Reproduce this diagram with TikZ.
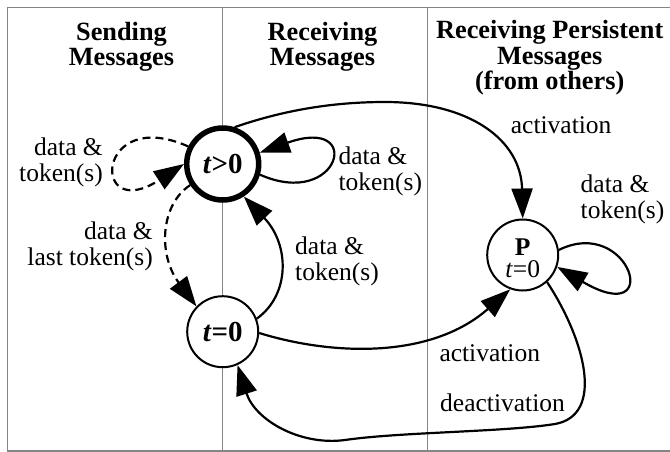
\documentclass[tikz,border=0pt]{standalone}
\usepackage{fontspec}
\setmainfont{Liberation Serif}
\usetikzlibrary{arrows.meta}
\definecolor{framegray}{HTML}{858585}
\begin{document}
\begin{tikzpicture}[x=1pt,y=-1pt,
  state/.style={circle, draw, fill=white, inner sep=0pt, minimum size=71pt, line width=2pt},
  edge/.style={line width=2.2pt, -{Triangle[length=30pt,width=21pt]}},
  dashededge/.style={edge, dash pattern=on 8pt off 5pt},
  lbl/.style={inner sep=0pt, font=\fontsize{25.5}{26}\selectfont},
  hdr/.style={inner sep=0pt, align=center, font=\fontsize{26.3}{25.5}\selectfont\bfseries},
  frame/.style={draw=framegray, line width=1.4pt}]
\useasboundingbox (0,0) rectangle (670,451);
% frame and columns
\draw[frame] (7.3,7.3) rectangle (671.5,450.8);
\draw[frame] (222.7,7.3) -- (222.7,450.8);
\draw[frame] (427.7,7.3) -- (427.7,450.8);
% headers (base anchor = baseline of last line)
\node[hdr, anchor=base] (h1) at (121.5,65.5) {Sending\\Messages};
\node[hdr, anchor=base] (h2) at (322.5,65.5) {Receiving\\Messages};
\node[hdr, anchor=base] (h3) at (549.7,89.5) {Receiving Persistent\\Messages\\(from others)};
% states
\node[state, line width=5.5pt, minimum size=72pt, font=\fontsize{29}{29}\selectfont\bfseries] (tg) at (222.7,164) {\textit{t}>0};
\node[state, font=\fontsize{29}{29}\selectfont\bfseries] (t0) at (222.7,331.7) {\textit{t}=0};
\node[state, align=center, font=\fontsize{25.5}{22}\selectfont] (P) at (522.7,255) {\rule{0pt}{24pt}\textbf{P}\\\textit{t}=0};
% edges
\draw[dashededge] (tg.153) .. controls (95,105) and (90,225) .. (tg.180);
\draw[dashededge] (tg.213) .. controls (160,205) and (158,255) .. (t0.136);
\draw[edge] (tg.-16) .. controls (340,210) and (365,115) .. (tg.17);
\draw[edge] (t0.21) .. controls (290,295) and (290,245) .. (tg.-57);
\draw[edge] (tg.72) .. controls (290,108) and (340,102) .. (385,102)
  .. controls (470,102) and (521,140) .. (P.north);
\draw[edge] (P.8) .. controls (630,215) and (665,330) .. (P.-19);
\draw[edge] (t0.-2) .. controls (330,355) and (430,360) .. (P.250);
\draw[edge] (P.-48) .. controls (585,340) and (605,415) .. (555,424)
  .. controls (505,432) and (400,432) .. (345,440)
  .. controls (300,446) and (255,420) .. (t0.-66);
% labels (base anchor = baseline of last line)
\node[lbl, align=right, anchor=base east] (l1) at (103,181.7) {data \&\\token(s)};
\node[lbl, align=right, anchor=base east] (l2) at (153,265) {data \&\\last token(s)};
\node[lbl, align=left, anchor=base west] (l3) at (338.3,190) {data \&\\token(s)};
\node[lbl, align=left, anchor=base west] (l4) at (295,280) {data \&\\token(s)};
\node[lbl, anchor=base west] (l5) at (510.7,133.3) {activation};
\node[lbl, align=left, anchor=base west] (l6) at (580.5,218.3) {data \&\\token(s)};
\node[lbl, anchor=base west] (l7) at (439.3,361.7) {activation};
\node[lbl, anchor=base west] (l8) at (440,411.7) {deactivation};
\end{tikzpicture}
\end{document}
